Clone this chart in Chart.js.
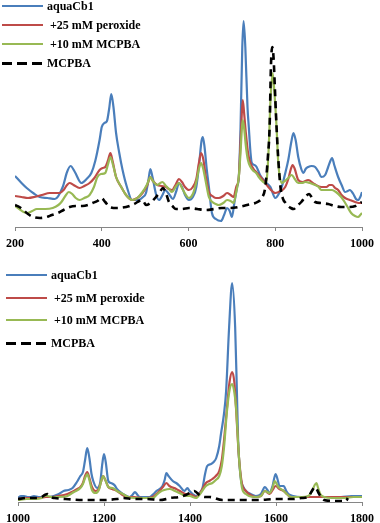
<!DOCTYPE html>
<html>
<head>
<meta charset="utf-8">
<script src="https://cdn.jsdelivr.net/npm/chart.js@4.4.1/dist/chart.umd.min.js"></script>
<style>
  html, body { margin: 0; padding: 0; background: #fff; }
  #page { position: relative; width: 380px; height: 523px; overflow: hidden; }
  canvas { position: absolute; left: 0; }
  #topChart { top: 0; }
  #bottomChart { top: 250px; }
  .legend-item { position: absolute; height: 14px; white-space: nowrap; }
  .legend-item .swatch { position: absolute; left: 0; width: 41px; }
  .legend-item .label {
    position: absolute; top: 0; line-height: 14px;
    font: bold 12px 'Liberation Serif', 'Times New Roman', serif; color: #000;
  }
</style>
</head>
<body>
<div id="page">
  <canvas id="topChart" width="380" height="250"></canvas>
  <canvas id="bottomChart" width="380" height="273"></canvas>
</div>
<script>
// Tick labels and series names
const topTicks = [200, 400, 600, 800, 1000];
const bottomTicks = [1000, 1200, 1400, 1600, 1800];
const seriesNames = ['aquaCb1', '+25 mM peroxide', '+10 mM MCPBA', 'MCPBA'];

// ---- Top panel (200-1000 cm-1), arbitrary intensity ----
const topAquaX = [200,215,227,245,257,275,292,310,320,328,338,353,365,376,385,395,400,406,412,417,422,427,433,440,448,458,470,485,495,502,508,512,517,525,532,540,546,555,564,572,578,585,592,601,610,618,625,630,633,637,642,647,654,663,675,682,689,695,700,706,712,716,720,724,727,731,736,739,743,746,752,757,765,777,789,800,808,815,822,830,837,842,847,853,860,865,870,876,884,892,900,906,915,922,928,931,936,945,953,961,967,972,980,986,991,996,1000];
const topAquaY = [51,44,39,33,30,29,28,40,55,61,55,44,48,54,66,87,100,104,106,118,133,120,94,75,57,40,27,27,30,34,48,58,50,33,27,32,37,33,28,36,44,40,32,27,30,40,65,86,90,80,58,40,14,8,6,12,19,16,10,25,40,50,100,180,206,180,120,100,74,64,62,60,52,45,40,29,33,40,52,67,85,94,87,70,58,54,58,60,61,60,55,50,52,60,67,69,62,50,42,35,36,37,33,28,27,30,35];

const topPeroxX = [200,215,230,245,262,280,295,303,312,320,326,335,349,360,372,383,395,402,408,414,420,425,433,445,456,470,482,494,505,512,518,528,538,548,555,562,570,578,585,592,601,610,618,624,629,634,640,647,655,663,670,680,689,697,704,710,716,720,722,725,728,732,738,743,750,756,762,770,777,788,800,812,823,830,836,840,845,853,863,876,890,906,918,925,931,938,945,953,961,972,984,992,1000];
const topPeroxY = [31,30,29,30,32,34,34,34,37,42,44,42,39,41,44,49,57,59,60,66,74,66,50,40,32,27,29,34,42,50,46,42,41,40,38,37,42,48,45,40,37,40,48,64,74,68,50,35,31,29,29,31,34,32,30,40,50,85,105,127,115,95,72,64,58,55,52,48,44,38,34,36,40,48,58,62,58,47,45,47,43,40,40,42,42,39,37,32,29,27,25,24,24];

const topMcpbaMixX = [200,210,220,227,240,250,270,287,300,307,316,324,332,340,349,360,372,382,390,398,408,414,420,426,433,445,456,470,482,494,505,512,518,528,535,540,548,555,562,570,578,586,594,601,610,618,624,629,634,640,647,655,663,670,680,689,697,704,710,716,720,723,725,728,732,737,743,750,756,762,770,777,781,785,789,794,798,803,807,815,822,830,838,845,853,862,869,880,892,900,906,918,931,940,952,960,968,975,984,991,996,1000];
const topMcpbaMixY = [21,18,15,14,16,18,18,19,22,25,31,35,33,29,27,29,32,40,50,53,54,62,70,62,50,40,32,27,29,35,43,50,46,42,44,45,41,38,35,40,44,38,32,29,33,45,58,64,58,45,30,25,23,22,24,27,26,24,35,50,75,98,107,100,82,67,60,56,54,50,46,44,50,80,127,154,135,100,64,44,46,49,52,48,44,44,45,44,42,40,37,37,37,35,30,25,19,14,11,10,12,14];

const topMcpbaX = [200,210,219,230,242,258,273,285,299,312,326,340,356,368,379,390,399,408,418,435,456,470,479,486,491,497,502,512,525,534,541,548,555,563,571,585,601,620,640,660,677,697,716,735,754,763,769,777,783,787,790,793,796,800,803,806,812,818,824,830,836,842,850,860,869,878,885,892,905,922,937,952,968,985,993,1000];
const topMcpbaY = [22,20,17,13,10,9,10,12,14,17,20,21,21,22,24,26,29,25,20,19,20,22,24,26,27,25,22,24,30,35,39,34,25,21,18,18,19,18,17,18,19,19,20,22,24,26,29,40,70,100,160,180,170,130,100,75,40,28,24,21,19,18,21,25,30,33,29,25,24,23,21,20,20,21,23,25];

// ---- Bottom panel (1000-1800 cm-1) ----
const botAquaX = [1000,1007,1014,1022,1030,1037,1048,1060,1070,1083,1095,1106,1117,1127,1137,1145,1151,1156,1161,1166,1171,1175,1184,1191,1196,1200,1204,1210,1216,1221,1226,1230,1244,1260,1266,1272,1278,1283,1295,1306,1315,1322,1336,1341,1345,1350,1360,1368,1376,1387,1394,1399,1406,1414,1422,1429,1435,1440,1449,1455,1461,1468,1472,1479,1484,1491,1498,1505,1509,1512,1518,1524,1530,1541,1553,1565,1574,1580,1585,1592,1599,1604,1608,1613,1618,1624,1629,1640,1659,1680,1705,1730,1751,1775,1790,1800];
const botAquaY = [4,6,6,5,5,6,5,5,5,6,8,11,12,14,20,26,30,42,54,44,28,21,14,19,38,48,40,21,19,18,16,13,8,5,7,10,7,5,5,5,8,11,16,22,29,26,21,19,16,11,14,11,8,6,9,14,28,36,38,40,44,56,68,88,111,175,219,175,111,61,24,15,11,8,6,8,15,12,9,16,28,22,16,16,16,11,8,6,5,5,5,5,5,6,6,6];

const botPeroxX = [1000,1020,1030,1050,1065,1076,1095,1115,1130,1138,1145,1151,1156,1161,1166,1172,1180,1188,1193,1198,1203,1210,1219,1230,1240,1253,1270,1290,1313,1322,1329,1337,1345,1352,1368,1380,1390,1399,1414,1425,1437,1445,1452,1460,1468,1474,1479,1486,1492,1498,1503,1507,1514,1521,1530,1537,1553,1565,1574,1585,1592,1599,1608,1618,1625,1635,1660,1700,1750,1800];
const botPeroxY = [3,4,4,4,5,5,6,8,11,13,15,19,26,30,24,15,11,13,20,26,22,15,13,11,8,5,5,4,5,8,11,15,19,16,13,10,8,8,5,10,19,21,23,26,31,42,61,94,120,130,120,94,44,18,11,8,5,6,11,8,12,16,13,11,8,5,5,5,5,5];

const botMcpbaMixX = [1000,1020,1040,1055,1062,1069,1078,1095,1115,1130,1145,1151,1156,1161,1166,1172,1180,1188,1193,1198,1203,1210,1220,1230,1244,1256,1270,1295,1313,1322,1330,1340,1353,1365,1380,1390,1399,1414,1425,1437,1445,1452,1460,1468,1474,1479,1486,1492,1498,1503,1507,1514,1521,1530,1537,1553,1565,1574,1585,1592,1597,1604,1608,1618,1625,1635,1660,1675,1684,1690,1694,1698,1703,1712,1730,1760,1780,1800];
const botMcpbaMixY = [2,3,3,4,6,6,5,5,6,10,14,18,24,28,22,12,9,12,20,26,22,15,14,11,8,5,4,4,4,7,10,12,13,11,8,6,6,4,9,16,18,19,22,26,36,54,91,112,118,110,95,44,14,8,6,5,6,11,9,14,21,16,14,11,8,5,5,6,11,17,19,14,8,5,4,4,5,5];

const botMcpbaX = [1000,1020,1040,1055,1062,1069,1076,1085,1110,1150,1200,1230,1245,1270,1300,1330,1345,1353,1375,1390,1399,1410,1422,1435,1445,1475,1520,1560,1600,1640,1660,1675,1682,1691,1698,1703,1712,1737,1763,1767];
const botMcpbaY = [3,4,4,5,7,8,5,4,3,2,2,3,4,3,3,2,3,4,5,7,9,11,7,5,5,2,2,2,3,3,4,5,10,15,10,6,2,1,1,4];

const seriesColors = ['#4A7EBB', '#BE4B48', '#98B954', '#000000'];

function toPoints(xs, ys) {
    return xs.map((x, i) => ({ x: x, y: ys[i] }));
}

function makeDatasets(groups) {
    return groups.map(([xs, ys], i) => ({
        label: seriesNames[i],
        data: toPoints(xs, ys),
        borderColor: seriesColors[i],
        borderWidth: i === 3 ? 2.6 : 2.2,
        borderDash: i === 3 ? [7, 5] : [],
        cubicInterpolationMode: 'monotone',
        pointRadius: 0,
        fill: false,
        order: 3 - i
    }));
}

const axisFont = { family: "'Liberation Serif', 'Times New Roman', serif", size: 12, weight: 'bold' };

function buildChart(canvasId, ticks, yMax, axisHeight, padLeft, groups) {
    return new Chart(document.getElementById(canvasId).getContext('2d'), {
        type: 'line',
        data: { datasets: makeDatasets(groups) },
        options: {
            responsive: false,
            animation: false,
            layout: { padding: { left: padLeft, right: 16, top: 0, bottom: 0 } },
            plugins: { legend: { display: false }, tooltip: { enabled: false } },
            scales: {
                x: {
                    type: 'linear',
                    min: ticks[0],
                    max: ticks[ticks.length - 1],
                    afterBuildTicks: (scale) => { scale.ticks = ticks.map(v => ({ value: v })); },
                    afterFit: (scale) => { scale.height = axisHeight; },
                    ticks: {
                        font: axisFont, color: '#000', padding: 6, maxRotation: 0,
                        callback: (v) => String(v)
                    },
                    grid: { drawOnChartArea: false, drawTicks: true, tickLength: 4, color: '#868686' },
                    border: { display: true, color: '#868686', width: 1 }
                },
                y: { display: false, min: 0, max: yMax }
            }
        }
    });
}

buildChart('topChart', topTicks, 227, 23, 15, [
    [topAquaX, topAquaY], [topPeroxX, topPeroxY], [topMcpbaMixX, topMcpbaMixY], [topMcpbaX, topMcpbaY]
]);
buildChart('bottomChart', bottomTicks, 252, 21, 17, [
    [botAquaX, botAquaY], [botPeroxX, botPeroxY], [botMcpbaMixX, botMcpbaMixY], [botMcpbaX, botMcpbaY]
]);

// Legends (overlaid at the upper left of each panel)
function makeLegend(lineLeft, firstY, spacing, textLeft) {
    const page = document.getElementById('page');
    seriesNames.forEach((name, i) => {
        const item = document.createElement('div');
        item.className = 'legend-item';
        item.style.left = lineLeft + 'px';
        item.style.top = (firstY + i * spacing - 7) + 'px';
        const sw = document.createElement('div');
        sw.className = 'swatch';
        if (i === 3) {
            sw.style.top = '5.5px';
            sw.style.height = '3px';
            sw.style.background = 'repeating-linear-gradient(to right, #000 0 10px, transparent 10px 15px)';
        } else {
            sw.style.top = '6px';
            sw.style.height = '2px';
            sw.style.background = seriesColors[i];
        }
        const lab = document.createElement('span');
        lab.className = 'label';
        lab.style.left = (textLeft - lineLeft + (name.startsWith('+') ? 3 : 0)) + 'px';
        lab.textContent = name;
        item.appendChild(sw);
        item.appendChild(lab);
        page.appendChild(item);
    });
}
makeLegend(2, 6, 19, 47);
makeLegend(6, 275, 22.7, 51);
</script>
</body>
</html>
